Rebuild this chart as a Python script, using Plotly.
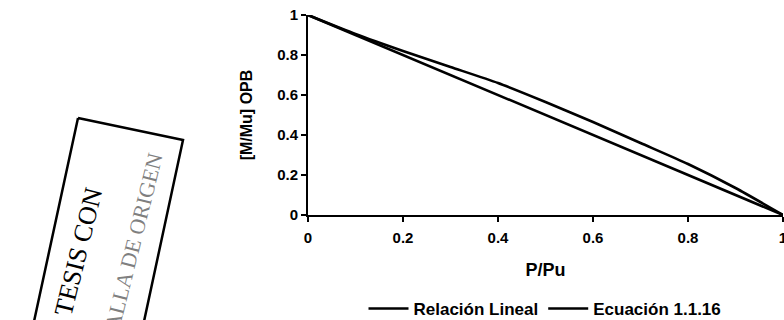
import plotly.graph_objects as go

# Data
p_pu = [0.0, 0.1, 0.2, 0.3, 0.4, 0.5, 0.6, 0.7, 0.8, 0.9, 1.0]
relacion_lineal = [1.0, 0.9, 0.8, 0.7, 0.6, 0.5, 0.4, 0.3, 0.2, 0.1, 0.0]
ecuacion_1_1_16 = [1.0, 0.905, 0.82, 0.74, 0.66, 0.565, 0.465, 0.36, 0.255, 0.135, 0.0]
x_ticks = [0, 0.2, 0.4, 0.6, 0.8, 1]
y_ticks = [0, 0.2, 0.4, 0.6, 0.8, 1]
series_names = ["Relación Lineal", "Ecuación 1.1.16"]

FONT = "Liberation Sans, Arial, sans-serif"
W, H = 784, 320
L, R, T, B = 308, 1, 15, 105
PW, PH = W - L - R, H - T - B

def px(xp):
    return (xp - L) / PW

def py(yp):
    return (H - B - yp) / PH

fig = go.Figure()
fig.add_trace(go.Scatter(x=p_pu, y=relacion_lineal, mode="lines", name=series_names[0],
                         line=dict(color="black", width=2.6)))
fig.add_trace(go.Scatter(x=p_pu, y=ecuacion_1_1_16, mode="lines", name=series_names[1],
                         line=dict(color="black", width=2.6, shape="spline", smoothing=0.6)))

axis_common = dict(showgrid=False, zeroline=False, showline=True, linecolor="black",
                   linewidth=2, ticks="outside", ticklen=5, tickwidth=1.5, tickcolor="black",
                   tickfont=dict(family=FONT, size=15, color="black", weight="bold"))

fig.update_xaxes(range=[0, 1], tickvals=x_ticks, ticktext=[f"{v:g}" for v in x_ticks],
                 ticklabelstandoff=3, ticklabeloverflow="allow",
                 title=dict(text="P/Pu", font=dict(family=FONT, size=18, color="black", weight="bold"),
                            standoff=18),
                 **axis_common)
fig.update_yaxes(range=[0, 1], tickvals=y_ticks, ticktext=[f"{v:g}" for v in y_ticks],
                 title=dict(text="[M/Mu] OPB", font=dict(family=FONT, size=16, color="black", weight="bold"),
                            standoff=21),
                 **axis_common)

# Stamp (decoration from the scanned page)
stamp = [(78, 118), (183, 140), (140, 340), (30, 340)]
path = "M " + " L ".join(f"{px(a)},{py(b)}" for a, b in stamp[:2]) + \
       f" L {px(stamp[2][0])},{py(stamp[2][1])} M {px(stamp[0][0])},{py(stamp[0][1])} L {px(stamp[3][0])},{py(stamp[3][1])}"
fig.add_shape(type="path", xref="paper", yref="paper", path=path,
              line=dict(color="black", width=2.5))
fig.add_annotation(xref="paper", yref="paper", x=px(78), y=py(252), text="TESIS CON",
                   xanchor="center", yanchor="middle",
                   textangle=-76, showarrow=False,
                   font=dict(family="Liberation Serif, serif", size=26, color="black"))
fig.add_annotation(xref="paper", yref="paper", x=px(132), y=py(246), text="FALLA DE ORIGEN",
                   xanchor="center", yanchor="middle",
                   textangle=-76, showarrow=False,
                   font=dict(family="Liberation Serif, serif", size=22, color="rgba(0,0,0,0.5)"))

fig.update_layout(
    width=W, height=H,
    margin=dict(l=L, r=R, t=T, b=B, autoexpand=False),
    paper_bgcolor="white", plot_bgcolor="white",
    showlegend=True,
    legend=dict(orientation="h", x=px(545), xanchor="center",
                yref="container", y=(H - 309) / H, yanchor="middle",
                font=dict(family=FONT, size=17, color="black", weight="bold"),
                itemwidth=40, tracegroupgap=0, bgcolor="rgba(0,0,0,0)"),
)

fig.write_html("out.html", config={"displayModeBar": False},
               post_script="document.body.style.margin='0';document.body.style.overflow='hidden';")
